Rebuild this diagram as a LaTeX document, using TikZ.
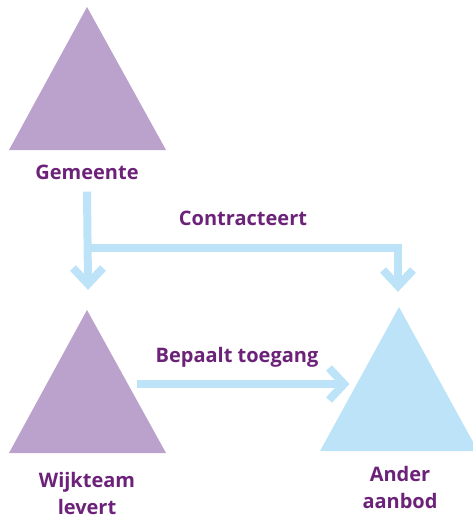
\documentclass[tikz,border=0pt]{standalone}
\usepackage{fontspec}
\setmainfont{Open Sans}

\definecolor{paars}{HTML}{BBA2CC}
\definecolor{tekstpaars}{HTML}{6B2278}
\definecolor{lichtblauw}{HTML}{BDE3F8}

\begin{document}
\begin{tikzpicture}[x=1pt,y=-1pt,
  etiket/.style={text=tekstpaars,font=\bfseries\fontsize{20}{27}\selectfont,align=center,inner sep=0pt},
  pijl/.style={draw=lichtblauw,line width=8pt}]
\useasboundingbox (0,0) rectangle (473,519);

% TRIANGLES
  \fill[paars] (87,7) -- (166,150) -- (9,150) -- cycle;
  \fill[paars] (87,310) -- (166,453) -- (9,453) -- cycle;
  \fill[lichtblauw] (399,307) -- (478,451) -- (320,451) -- cycle;

% LABELS
  \node[etiket] (gemeente) at (87,172) {Gemeente};
  \node[etiket] (wijkteam) at (87,493) {Wijkteam\\levert};
  \node[etiket] (ander) at (400,487) {Ander\\aanbod};
  \node[etiket] (contract) at (243,218) {Contracteert};
  \node[etiket] (toegang) at (237,357) {Bepaalt toegang};

% CONNECTORS
  \coordinate (splits) at (88,248);
  \coordinate (tipwijk) at (88,284);
  \coordinate (tipander) at (398,286);
  \coordinate (startpijl) at (137,384);
  \coordinate (tippijl) at (344,384);

  \draw[pijl] ([yshift=-12pt]gemeente.south) -- (tipwijk);
  \draw[pijl] (splits) -| (tipander);
  \draw[pijl] (startpijl) -- (tippijl);

% arrow heads
  \draw[pijl] (tipwijk) ++(-15,-16) -- (tipwijk) -- ++(15,-16);
  \draw[pijl] (tipander) ++(-15,-16) -- (tipander) -- ++(15,-16);
  \draw[pijl] (tippijl) ++(-15,-16) -- (tippijl) -- ++(-15,16);

\end{tikzpicture}
\end{document}
